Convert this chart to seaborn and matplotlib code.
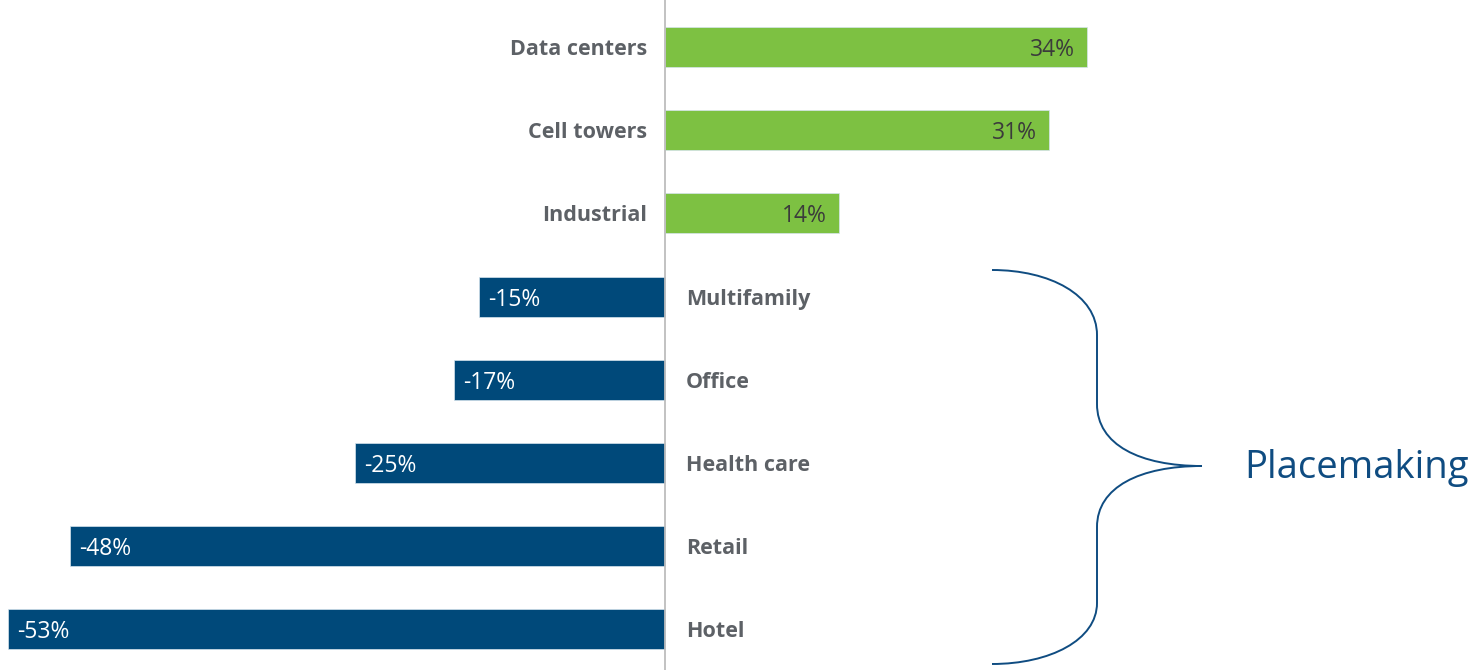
import matplotlib
matplotlib.use("Agg")
import matplotlib.pyplot as plt
from matplotlib.path import Path
from matplotlib.patches import PathPatch
from matplotlib.transforms import Affine2D
import seaborn as sns
import pandas as pd

categories = ["Data centers", "Cell towers", "Industrial", "Multifamily",
              "Office", "Health care", "Retail", "Hotel"]
changes = [34, 31, 14, -15, -17, -25, -48, -53]
value_labels = ["34%", "31%", "14%", "-15%", "-17%", "-25%", "-48%", "-53%"]
group_label = "Placemaking"

GREEN = "#7DC142"
BLUE = "#00497A"
LABEL_GRAY = "#5d6166"
VALUE_DARK = "#3b3b3b"

sns.set_theme(style="white")
plt.rcParams["font.family"] = ["Open Sans", "DejaVu Sans"]

df = pd.DataFrame({"category": categories, "change": changes})
df["direction"] = ["up" if v >= 0 else "down" for v in changes]

W, H, DPI = 14.84, 6.70, 100
fig = plt.figure(figsize=(W, H), dpi=DPI)
ax = fig.add_axes([0, 0, 1, 1])

sns.barplot(data=df, x="change", y="category", hue="direction",
            palette={"up": GREEN, "down": BLUE}, order=categories,
            orient="h", width=0.48, dodge=False, legend=False, ax=ax,
            saturation=1, edgecolor="#d6e4ee", linewidth=0.5)

# pixel scale: 12.4 px per percentage point, zero line at x=665
px_per = 12.4
ax.set_xlim(-665 / px_per, (1484 - 665) / px_per)
row = 83.2
ax.set_ylim((670 - 47) / row, -47 / row)

ax.axvline(0, color="#bdbdbd", lw=1.3, zorder=3)
for s in ax.spines.values():
    s.set_visible(False)
ax.set_xticks([])
ax.set_yticks([])
ax.set_xlabel("")
ax.set_ylabel("")

cat_font = dict(family=["Open Sans", "DejaVu Sans"], fontweight="bold",
                fontsize=15.5, color=LABEL_GRAY, va="center_baseline")
val_font = dict(fontsize=16.5, va="center_baseline")
for i, (cat, v, lab) in enumerate(zip(categories, changes, value_labels)):
    if v >= 0:
        ax.text(-18 / px_per, i, cat, ha="right", **cat_font)
        ax.text(v - 12 / px_per, i, lab, ha="right", color=VALUE_DARK,
                **val_font)
    else:
        ax.text(21 / px_per, i, cat, ha="left", **cat_font)
        ax.text(v + 9 / px_per, i, lab, ha="left", color="white", **val_font)

# curly brace grouping the lower categories (drawn in pixel space, y from top)
verts = [
    (992, 270),
    (1050, 270), (1097, 295), (1097, 335),
    (1097, 404),
    (1097, 445), (1140, 466), (1202, 466),
    (1140, 466), (1097, 487), (1097, 527),
    (1097, 603),
    (1097, 640), (1050, 664), (992, 664),
]
codes = [Path.MOVETO,
         Path.CURVE4, Path.CURVE4, Path.CURVE4,
         Path.LINETO,
         Path.CURVE4, Path.CURVE4, Path.CURVE4,
         Path.CURVE4, Path.CURVE4, Path.CURVE4,
         Path.LINETO,
         Path.CURVE4, Path.CURVE4, Path.CURVE4]
to_fig = Affine2D().scale(1 / 1484, -1 / 670).translate(0, 1) + fig.transFigure
brace = PathPatch(Path(verts, codes), facecolor="none", edgecolor="#0f4c81",
                  lw=1.4, transform=to_fig)
fig.add_artist(brace)

fig.text(1244 / 1484, 1 - 468 / 670, group_label, ha="left", va="center",
         fontsize=27.5, color="#0f4c81")

fig.savefig("out.png", dpi=DPI)
